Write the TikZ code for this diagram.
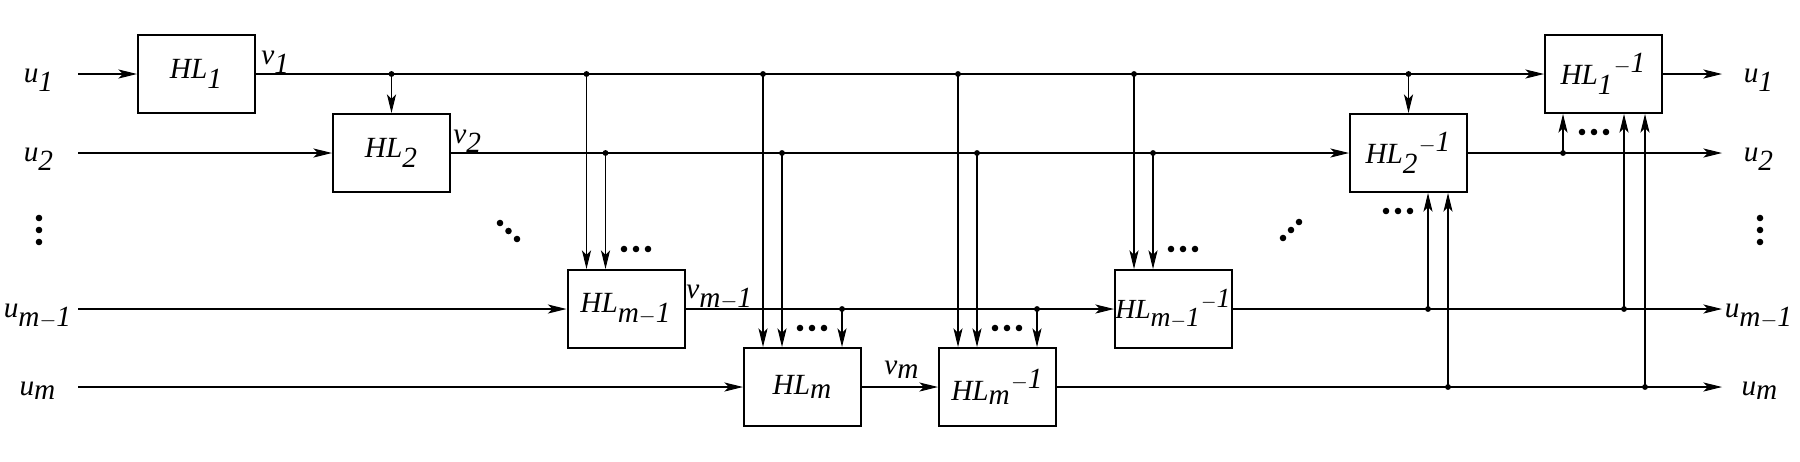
\documentclass[tikz,border=0pt]{standalone}
\usepackage{fontspec}
\setmainfont{Liberation Serif}
\usetikzlibrary{arrows.meta,calc}

\newcommand{\hl}[1]{$\textit{HL}_{#1}$}
\newcommand{\hlinv}[1]{${\textit{HL}_{#1}}^{-\textit{1}}$}
\newcommand{\sig}[2]{$\textit{#1}_{#2}$}

\tikzset{
  blk/.style={draw, line width=0.85pt, minimum width=1.755cm, minimum height=1.17cm, inner sep=0pt},
  wire/.style={line width=0.45pt},
  arr/.style={wire, -{Stealth[length=8pt,width=3.9pt,inset=2pt]}},
  lbl/.style={inner sep=0pt, anchor=base},
}

\begin{document}
\begin{tikzpicture}[x=0.015cm, y=-0.015cm, font=\fontsize{12.5}{15}\selectfont]
  \useasboundingbox (0,0) rectangle (1800,461);

  % -- Forward blocks --
  \node[blk] (HL1) at (196.5,74)  {\hl{\textit{1}}};
  \node[blk] (HL2) at (391.5,153) {\hl{\textit{2}}};
  \node[blk] (HLa) at (626,309)   {\hl{\textit{m}-\textit{1}}};
  \node[blk] (HLm) at (802.5,387) {\hl{\textit{m}}};

  % -- Inverse blocks --
  \node[blk] (HLmi) at (997.5,387)  {\hlinv{\textit{m}}};
  \node[blk, font=\fontsize{11.8}{14}\selectfont] (HLai) at (1173.5,309) {\hlinv{\textit{m}-\textit{1}}};
  \node[blk] (HL2i) at (1408.5,153) {\hlinv{\textit{2}}};
  \node[blk] (HL1i) at (1603.5,74)  {\hlinv{\textit{1}}};

  % -- Port labels --
  \node[lbl] (u1)  at (39,82)  {\sig{u}{\textit{1}}};
  \node[lbl] (u2)  at (39,161) {\sig{u}{\textit{2}}};
  \node[lbl] (ua)  at (38,317) {\sig{u}{\textit{m}-\textit{1}}};
  \node[lbl] (um)  at (38,395) {\sig{u}{\textit{m}}};
  \node[lbl] (o1l) at (1759,82)  {\sig{u}{\textit{1}}};
  \node[lbl] (o2l) at (1759,161) {\sig{u}{\textit{2}}};
  \node[lbl] (oal) at (1759,317) {\sig{u}{\textit{m}-\textit{1}}};
  \node[lbl] (oml) at (1760,395) {\sig{u}{\textit{m}}};

  \coordinate (in1) at (78,74);   \coordinate (o1) at (1722,74);
  \coordinate (in2) at (78,153);  \coordinate (o2) at (1722,153);
  \coordinate (in3) at (78,309);  \coordinate (o3) at (1722,309);
  \coordinate (in4) at (78,387);  \coordinate (o4) at (1722,387);

  % -- Main signal lines --
  \draw[arr] (in1) -- (HL1);
  \draw[arr] (HL1) -- (HL1i);
  \draw[arr] (HL1i) -- (o1);
  \draw[arr] (in2) -- (HL2);
  \draw[arr] (HL2) -- (HL2i);
  \draw[arr] (HL2i) -- (o2);
  \draw[arr] (in3) -- (HLa);
  \draw[arr] (HLa) -- (HLai);
  \draw[arr] (HLai) -- (o3);
  \draw[arr] (in4) -- (HLm);
  \draw[arr] (HLm) -- (HLmi);
  \draw[arr] (HLmi) -- (o4);

  % -- Intermediate outputs --
  \node[lbl, anchor=base west] (v1) at (261,64)  {\sig{v}{\textit{1}}};
  \node[lbl, anchor=base west] (v2) at (453,143) {\sig{v}{\textit{2}}};
  \node[lbl, anchor=base west] (va) at (686,298) {\sig{v}{\textit{m}-\textit{1}}};
  \node[lbl, anchor=base west] (vm) at (884,374) {\sig{v}{\textit{m}}};

  % -- Taps from row 1 --
  \coordinate (t12) at (HL2.north);
  \coordinate (t1a) at ($(HLa.north west)+(20,0)$);
  \coordinate (t1m) at ($(HLm.north west)+(20,0)$);
  \coordinate (t1n) at ($(HLmi.north west)+(20,0)$);
  \coordinate (t1b) at ($(HLai.north west)+(20,0)$);
  \coordinate (t1c) at (HL2i.north);
  \foreach \t in {t12,t1a,t1m,t1n,t1b,t1c} {
    \draw[arr] (\t |- HL1) -- (\t);
    \fill (\t |- HL1) circle[radius=1.25pt];
  }

  % -- Taps from row 2 --
  \coordinate (t2a) at ($(HLa.north west)+(39,0)$);
  \coordinate (t2m) at ($(HLm.north west)+(39,0)$);
  \coordinate (t2n) at ($(HLmi.north west)+(39,0)$);
  \coordinate (t2b) at ($(HLai.north west)+(39,0)$);
  \coordinate (t2c) at ($(HL1i.south west)+(19,0)$);
  \foreach \t in {t2a,t2m,t2n,t2b,t2c} {
    \draw[arr] (\t |- HL2) -- (\t);
    \fill (\t |- HL2) circle[radius=1.25pt];
  }

  % -- Taps from row m-1 --
  \coordinate (t3m) at ($(HLm.north east)+(-20,0)$);
  \coordinate (t3n) at ($(HLmi.north east)+(-20,0)$);
  \coordinate (t3b) at ($(HL2i.south east)+(-40,0)$);
  \coordinate (t3c) at ($(HL1i.south east)+(-39,0)$);
  \foreach \t in {t3m,t3n,t3b,t3c} {
    \draw[arr] (\t |- HLa) -- (\t);
    \fill (\t |- HLa) circle[radius=1.25pt];
  }

  % -- Taps from row m --
  \coordinate (t4b) at ($(HL2i.south east)+(-20,0)$);
  \coordinate (t4c) at ($(HL1i.south east)+(-18,0)$);
  \foreach \t in {t4b,t4c} {
    \draw[arr] (\t |- HLm) -- (\t);
    \fill (\t |- HLm) circle[radius=1.25pt];
  }

  % -- Ellipsis dots --
  \foreach \y in {218,230,242} {
    \fill (39,\y) circle[radius=1.4pt];
    \fill (1760,\y) circle[radius=1.4pt];
  }
  \foreach \x/\y in {500/223,508.5/231,517/239, 1283/238,1291/230,1299/222} {
    \fill (\x,\y) circle[radius=1.4pt];
  }
  \foreach \x in {0,12,24} {
    \fill (624+\x,249)  circle[radius=1.4pt];
    \fill (800+\x,328)  circle[radius=1.4pt];
    \fill (995+\x,328)  circle[radius=1.4pt];
    \fill (1171+\x,249) circle[radius=1.4pt];
    \fill (1386+\x,211) circle[radius=1.4pt];
    \fill (1582+\x,132) circle[radius=1.4pt];
  }

\end{tikzpicture}
\end{document}
